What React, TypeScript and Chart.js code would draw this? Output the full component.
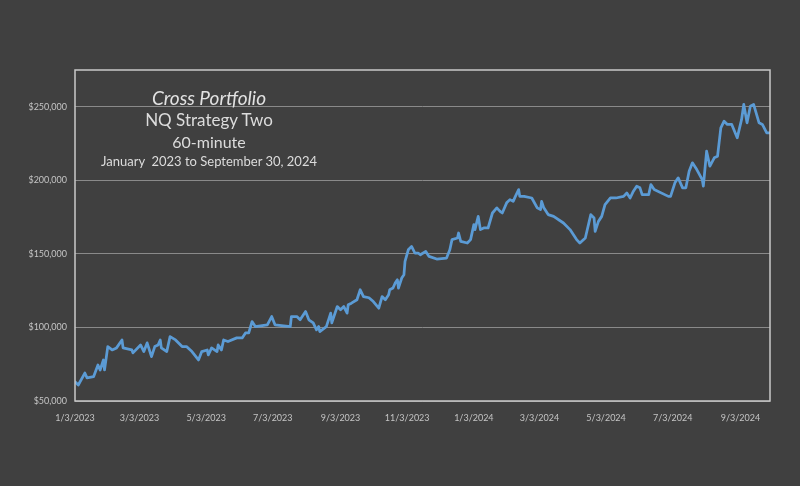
import React, { useEffect, useRef } from "react";
import { Chart, registerables } from "chart.js";

Chart.register(...registerables);

const START_DATE = "1/3/2023";
const END_DATE = "9/30/2024";

const xTickLabels = [
  "1/3/2023", "3/3/2023", "5/3/2023", "7/3/2023", "9/3/2023", "11/3/2023",
  "1/3/2024", "3/3/2024", "5/3/2024", "7/3/2024", "9/3/2024",
];

const yTickValues = [50000, 100000, 150000, 200000, 250000];

// days since 1/3/2023
const daysSinceStart = [
  0, 3, 9, 11, 17, 21, 23, 26, 27, 30, 34, 38, 43, 44, 52, 53, 60, 63, 66, 70,
  73, 76, 78, 79, 84, 87, 92, 98, 102, 107, 113, 116, 121, 122, 125, 130, 131, 134, 136, 140,
  148, 153, 156, 159, 162, 165, 176, 180, 183, 197, 198, 203, 206, 211, 214, 218, 221, 223, 224, 230,
  234, 235, 240, 243, 246, 249, 250, 253, 258, 261, 264, 269, 273, 278, 281, 284, 287, 288, 291, 293,
  295, 296, 299, 301, 302, 305, 308, 311, 314, 316, 321, 324, 331, 340, 343, 345, 350, 351, 353, 359,
  362, 365, 366, 369, 371, 374, 378, 382, 386, 389, 391, 395, 398, 401, 403, 406, 407, 411, 418, 423,
  426, 427, 429, 433, 438, 447, 453, 459, 462, 467, 472, 475, 476, 479, 482, 485, 490, 495, 502, 505,
  508, 511, 514, 517, 519, 525, 527, 530, 543, 545, 549, 552, 556, 559, 562, 565, 569, 574, 575, 578,
  581, 585, 588, 591, 594, 597, 601, 606, 610, 612, 615, 618, 621, 626, 629, 633, 636,
];

const equity = [
  63000, 60900, 69000, 65700, 66500, 74500, 71100, 77900, 71100, 87000, 84700, 86100, 91500, 86100, 84700, 82700, 88100, 83600, 89500, 80200,
  87000, 88100, 91500, 86100, 83600, 93800, 91500, 87000, 87000, 83600, 77900, 83600, 84700, 81300, 86100, 83600, 88100, 84700, 91500, 90400,
  92900, 92900, 96300, 96300, 104000, 100600, 101800, 107400, 101800, 100600, 107400, 107400, 105200, 110800, 105200, 103100, 98400, 100600, 97200, 100600,
  109700, 103100, 114200, 112000, 114200, 109700, 115400, 116500, 118800, 125600, 121000, 120200, 117600, 113100, 121000, 118800, 122200, 125600, 126800, 130200,
  132400, 126800, 133600, 135800, 144900, 152800, 155100, 150600, 150600, 149400, 151700, 148300, 146500, 147200, 152800, 159700, 160800, 164200, 158500, 157400,
  159700, 169900, 166500, 175500, 166500, 167600, 167600, 177800, 181300, 178900, 177800, 184700, 186900, 185700, 189100, 193700, 189100, 189100, 188000, 181300,
  180100, 185700, 181300, 176700, 175500, 171000, 166500, 159700, 157400, 160800, 176700, 174400, 165300, 172100, 175500, 183500, 188000, 188000, 189100, 191400,
  188000, 192600, 196000, 194900, 190300, 190300, 197100, 193700, 189100, 189100, 198300, 201700, 194900, 194900, 206200, 211900, 207300, 200500, 196000, 219800,
  209600, 215300, 216400, 235700, 240200, 238000, 238000, 228900, 241400, 251600, 239100, 250400, 251600, 239100, 238000, 232300, 232300,
];

const titleLines = [
  "Cross Portfolio",
  "NQ Strategy Two",
  "60-minute",
  "January  2023 to September 30, 2024",
];

function dayOffset(label: string): number {
  const [m, d, y] = label.split("/").map(Number);
  const [sm, sd, sy] = START_DATE.split("/").map(Number);
  return Math.round((Date.UTC(y, m - 1, d) - Date.UTC(sy, sm - 1, sd)) / 86400000);
}

const frameBorder = {
  id: "frameBorder",
  afterDatasetsDraw(chart: any) {
    const { ctx, chartArea } = chart;
    ctx.save();
    ctx.strokeStyle = "#c9c9c9";
    ctx.lineWidth = 1.5;
    ctx.strokeRect(chartArea.left, chartArea.top, chartArea.right - chartArea.left, chartArea.bottom - chartArea.top);
    ctx.restore();
  },
};

export default function App() {
  const canvasRef = useRef<HTMLCanvasElement | null>(null);

  useEffect(() => {
    if (!canvasRef.current) return;
    const tickDays = xTickLabels.map(dayOffset);
    const points = daysSinceStart.map((d, i) => ({ x: d, y: equity[i] }));
    const chart = new Chart(canvasRef.current, {
      type: "line",
      data: {
        datasets: [
          {
            label: "Equity",
            data: points,
            borderColor: "#5B9BD5",
            borderWidth: 2.75,
            pointRadius: 0,
            tension: 0,
            borderJoinStyle: "round",
            borderCapStyle: "round",
            fill: false,
          },
        ],
      },
      options: {
        responsive: false,
        animation: false,
        layout: { padding: { top: 70, right: 30, left: 0, bottom: 0 } },
        plugins: {
          legend: { display: false },
          tooltip: { enabled: false },
        },
        scales: {
          x: {
            type: "linear",
            min: 0,
            max: dayOffset(END_DATE),
            afterBuildTicks: (scale: any) => {
              scale.ticks = tickDays.map((v) => ({ value: v }));
            },
            afterFit: (scale: any) => {
              scale.height = 85;
            },
            ticks: {
              autoSkip: false,
              maxRotation: 0,
              padding: 12,
              color: "#c4c4c4",
              font: { family: "Lato", size: 9 },
              callback: (value: any) => {
                const idx = tickDays.indexOf(Number(value));
                return idx >= 0 ? xTickLabels[idx] : "";
              },
            },
            grid: { display: false, drawTicks: false },
            border: { display: false },
          },
          y: {
            type: "linear",
            min: 50000,
            max: 275000,
            afterBuildTicks: (scale: any) => {
              scale.ticks = yTickValues.map((v) => ({ value: v }));
            },
            afterFit: (scale: any) => {
              scale.width = 75;
            },
            ticks: {
              padding: 8,
              color: "#c4c4c4",
              font: { family: "Lato", size: 9 },
              callback: (value: any) => "$" + Number(value).toLocaleString("en-US"),
            },
            grid: { color: "#8a8a8a", lineWidth: 1, drawTicks: false },
            border: { display: false },
          },
        },
      },
      plugins: [frameBorder],
    });
    return () => chart.destroy();
  }, []);

  const lineStyles: React.CSSProperties[] = [
    { top: 105 - 0.887 * 19, fontSize: 19, fontStyle: "italic", color: "#e2e2e2" },
    { top: 125.7 - 0.887 * 17, fontSize: 17, color: "#dcdcdc" },
    { top: 148 - 0.887 * 16, fontSize: 16, color: "#dcdcdc" },
    { top: 167 - 0.887 * 13, fontSize: 13, color: "#dcdcdc" },
  ];

  return (
    <div
      style={{
        position: "fixed",
        left: 0,
        top: 0,
        width: 800,
        height: 486,
        background: "#404040",
        overflow: "hidden",
      }}
    >
      <canvas ref={canvasRef} width={800} height={486} style={{ display: "block" }} />
      {titleLines.map((t, i) => (
        <div
          key={i}
          style={{
            position: "absolute",
            left: 59,
            width: 300,
            textAlign: "center",
            fontFamily: "Lato, 'Open Sans', sans-serif",
            lineHeight: `${lineStyles[i].fontSize}px`,
            whiteSpace: "pre",
            ...lineStyles[i],
          }}
        >
          {t}
        </div>
      ))}
    </div>
  );
}
